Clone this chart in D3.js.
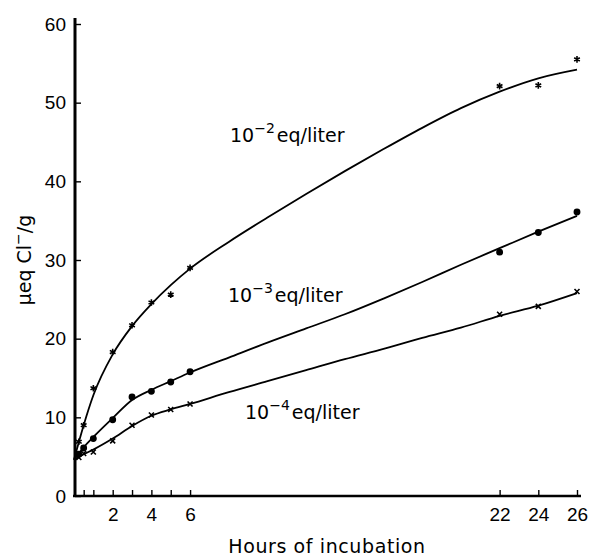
<!DOCTYPE html>
<html>
<head>
<meta charset="utf-8">
<script src="https://cdn.jsdelivr.net/npm/d3@7"></script>
<style>
  body { margin: 0; background: #fff; }
  svg { display: block; font-family: "DejaVu Sans", "Liberation Sans", sans-serif; }
</style>
</head>
<body>
<svg id="chart" width="590" height="558"></svg>
<script>
// measured points (hours, ueq Cl-/g)
const hoursA = [0.25, 0.5, 1, 2, 3, 4, 5, 6, 22, 24, 26]
const valuesA = [6.9, 9.0, 13.7, 18.3, 21.7, 24.6, 25.6, 29.0, 52.1, 52.2, 55.5]
const hoursB = [0.25, 0.5, 1, 2, 3, 4, 5, 6, 22, 24, 26]
const valuesB = [5.3, 6.1, 7.3, 9.7, 12.6, 13.3, 14.5, 15.8, 31.0, 33.5, 36.1]
const hoursC = [0.25, 0.5, 1, 2, 3, 4, 5, 6, 22, 24, 26]
const valuesC = [4.9, 5.4, 5.6, 7.0, 9.0, 10.3, 11.0, 11.7, 23.1, 24.1, 26.0]

// hand drawn fitted curves
const fitHours = [0, 0.5, 1, 2, 3, 4, 5, 6, 8, 10, 12, 14, 16, 18, 20, 22, 24, 26]
const fitA = [4.6, 9.0, 12.8, 18.0, 21.6, 24.4, 26.8, 28.9, 32.3, 35.4, 38.4, 41.3, 44.1, 46.8, 49.3, 51.4, 53.1, 54.2]
const fitB = [4.6, 6.2, 7.5, 9.9, 12.2, 13.5, 14.6, 15.7, 17.6, 19.5, 21.3, 23.1, 25.1, 27.2, 29.4, 31.5, 33.6, 35.6]
const fitC = [4.6, 5.3, 5.9, 7.3, 8.9, 10.2, 11.0, 11.7, 13.2, 14.6, 16.0, 17.4, 18.7, 20.1, 21.4, 22.9, 24.2, 25.8]

const xTicks = [0.5, 1, 2, 3, 4, 5, 6, 22, 24, 26]
const xLabels = [2, 4, 6, 22, 24, 26]
const yTicks = [0, 10, 20, 30, 40, 50, 60]

const svg = d3.select("#chart")

const x = d3.scaleLinear().domain([0, 26]).range([74, 577])
const y = d3.scaleLinear().domain([0, 60]).range([496, 24])

// axes
const xAxis = d3.axisBottom(x)
  .tickValues(xTicks)
  .tickSize(-6)
  .tickFormat(d => xLabels.includes(d) ? d : "")
  .tickPadding(12)

const gx = svg.append("g")
  .attr("transform", `translate(0, ${y(0)})`)
  .call(xAxis)
gx.select(".domain").remove()
gx.append("line")
  .attr("x1", x(0) - 1).attr("x2", 581)
  .attr("stroke", "#000").attr("stroke-width", 2.6)
gx.selectAll(".tick line").attr("stroke-width", 1.4)
gx.selectAll(".tick text").attr("font-size", 19).attr("fill", "#000")

const yAxis = d3.axisLeft(y)
  .tickValues(yTicks)
  .tickSize(-6)
  .tickPadding(9)

const gy = svg.append("g")
  .attr("transform", `translate(${x(0) + 1}, 0)`)
  .call(yAxis)
gy.select(".domain").remove()
gy.append("line")
  .attr("y1", y(0) + 1).attr("y2", y(60) - 6)
  .attr("stroke", "#000").attr("stroke-width", 3)
gy.selectAll(".tick line").attr("stroke-width", 1.4)
gy.selectAll(".tick text").attr("font-size", 19).attr("fill", "#000")

// curves
const line = d3.line()
  .x((d, i) => x(fitHours[i]))
  .y(d => y(d))
  .curve(d3.curveMonotoneX)

;[fitA, fitB, fitC].forEach(f => {
  svg.append("path")
    .attr("d", line(f))
    .attr("fill", "none")
    .attr("stroke", "#000")
    .attr("stroke-width", 1.8)
})

// markers
const marks = [
  { h: hoursA, v: valuesA, sym: d3.symbolAsterisk, size: 30, fill: "none" },
  { h: hoursB, v: valuesB, sym: d3.symbolCircle, size: 22, fill: "#000" },
  { h: hoursC, v: valuesC, sym: d3.symbolTimes, size: 18, fill: "none" },
]
marks.forEach(m => {
  svg.append("g")
    .selectAll("path")
    .data(m.v)
    .join("path")
    .attr("transform", (d, i) => `translate(${x(m.h[i])}, ${y(d)})`)
    .attr("d", d3.symbol().type(m.sym).size(m.size))
    .attr("fill", m.fill)
    .attr("stroke", "#000")
    .attr("stroke-width", 1.6)
})

// series labels
const labels = [
  { t: 230, v: 45.0, exp: "−2" },
  { t: 228, v: 24.7, exp: "−3" },
  { t: 245, v: 9.8, exp: "−4" },
]
labels.forEach(l => {
  const txt = svg.append("text")
    .attr("x", l.t)
    .attr("y", y(l.v))
    .attr("font-size", 19)
    .attr("fill", "#000")
  txt.append("tspan").text("10")
  txt.append("tspan").attr("dy", -9).attr("font-size", 14).text(l.exp)
  txt.append("tspan").attr("dy", 9).attr("dx", 2).text("eq/liter")
})

// axis titles
svg.append("text")
  .attr("x", 327)
  .attr("y", 553)
  .attr("text-anchor", "middle")
  .attr("font-size", 19)
  .attr("letter-spacing", 0.6)
  .text("Hours of incubation")

const yt = svg.append("text")
  .attr("transform", `translate(31, 260) rotate(-90)`)
  .attr("text-anchor", "middle")
  .attr("font-size", 19)
yt.append("tspan").text("μeq Cl")
yt.append("tspan").attr("dy", -8).attr("font-size", 14).text("−")
yt.append("tspan").attr("dy", 8).text("/g")
</script>
</body>
</html>
